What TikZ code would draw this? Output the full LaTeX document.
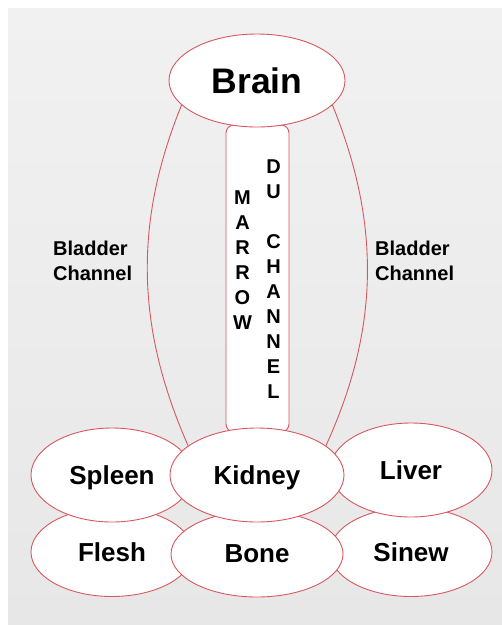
\documentclass[tikz,border=0pt]{standalone}
\usepackage{fontspec}
\setmainfont{Liberation Sans}
\usetikzlibrary{shapes.geometric, backgrounds, calc}

\definecolor{ringred}{RGB}{214,88,96}
\definecolor{paper}{RGB}{241,241,241}
\definecolor{paperlow}{RGB}{231,231,231}

\begin{document}
\begin{tikzpicture}[
  x=1pt, y=-1pt,
  font=\bfseries,
  organ/.style={ellipse, draw=ringred, line width=0.9pt, fill=white, inner sep=0pt,
    minimum width=162pt, minimum height=93pt, text depth=0pt,
    font=\fontsize{26}{30}\selectfont\bfseries},
  spine/.style={draw=ringred, line width=0.9pt, fill=white, rounded corners=8pt,
    minimum width=63pt, minimum height=307pt, inner sep=0pt},
  stack/.style={align=center, inner sep=0pt, font=\fontsize{20}{25}\selectfont\bfseries},
  sidelbl/.style={align=left, anchor=west, inner sep=0pt, font=\fontsize{20}{25}\selectfont\bfseries},
  bladder/.style={draw=ringred, line width=0.9pt}
]
\useasboundingbox (0,0) rectangle (502,625);

% the marrow / du channel column
\node[spine] (spine) at (257.5,278.5) {};
\node[stack] (marrow) at (242.5,260) {M\\A\\R\\R\\O\\W};
\node[stack] (du) at (273.5,279) {D\\U\\ \\C\\H\\A\\N\\N\\E\\L};

% brain on top
\node[organ, minimum width=176pt, font=\fontsize{35.5}{40}\selectfont\bfseries]
  (brain) at (257,80.5) {Brain};

% lower row first, then the upper row over it
\node[organ, minimum height=89pt] (flesh) at (112,552) {Flesh};
\node[organ, minimum height=89pt] (sinew) at (411,552) {Sinew};
\node[organ, minimum width=172pt, minimum height=86pt] (bone) at (257,554) {Bone};
\node[organ, minimum height=94pt] (spleen) at (112,475) {Spleen};
\node[organ, minimum height=94pt] (liver) at (411,470) {Liver};
\node[organ, minimum width=174pt, minimum height=94pt] (kidney) at (257,475) {Kidney};

% side labels
\node[sidelbl] (lbladder) at (53,261) {Bladder\\Channel};
\node[sidelbl] (rbladder) at (375,261) {Bladder\\Channel};

% grey paper and the two bladder channel curves behind everything
\begin{scope}[on background layer]
  \shade[top color=paper, bottom color=paperlow] (8,8) rectangle (502,625);
  \draw[bladder] (brain.198) .. controls +(-48,118) and +(-52,-118) .. (kidney.157);
  \draw[bladder] (brain.342) .. controls +(48,118) and +(54,-118) .. (kidney.23);
\end{scope}

\end{tikzpicture}
\end{document}
